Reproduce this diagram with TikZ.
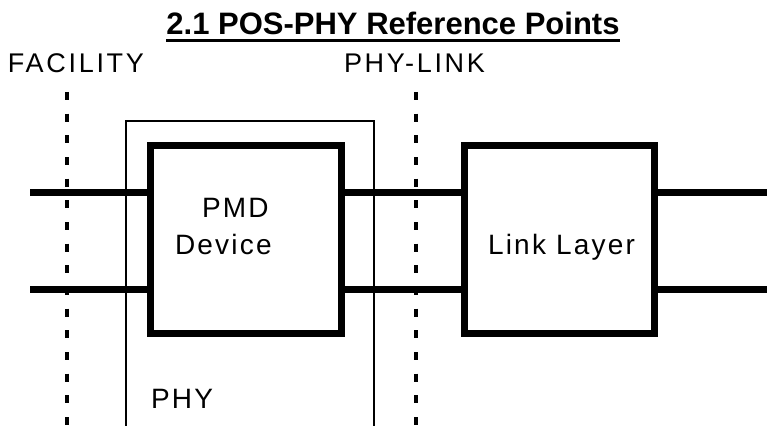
\documentclass[tikz,border=0pt]{standalone}
\usepackage{fontspec}
\setmainfont{Liberation Sans}
\begin{document}
\begin{tikzpicture}[x=1pt,y=-1pt,
  box/.style={draw, line width=7pt, inner sep=0pt, outer sep=0pt, fill=none},
  wire/.style={line width=7pt, line cap=butt},
  refline/.style={line width=3.3pt, dash pattern=on 8pt off 13.67pt},
  phyline/.style={line width=2pt},
  lbl/.style={inner sep=0pt, outer sep=0pt, anchor=base west, font=\fontsize{27}{31}\selectfont\addfontfeature{LetterSpace=10}},
  boxlbl/.style={inner sep=0pt, outer sep=0pt, anchor=base west, font=\fontsize{28}{32}\selectfont\addfontfeature{LetterSpace=8}}]
\useasboundingbox (0,0) rectangle (767,425);
\clip (0,0) rectangle (767,425);
% title
\node[inner sep=0pt, outer sep=0pt, anchor=base, font=\fontsize{31}{36}\selectfont\bfseries] (title) at (393,35) {2.1 POS-PHY Reference Points};
\draw[line width=2.5pt] ([yshift=-5.5pt]title.base west) -- ([yshift=-5.5pt]title.base east);
% reference point labels
\node[lbl] (fac) at (8,73) {FACILITY};
\node[lbl] (pl) at (344,73) {PHY-LINK};
% dashed reference lines
\coordinate (f1) at (67,92);
\coordinate (f2) at (67,430);
\coordinate (p1) at (416,92);
\coordinate (p2) at (416,430);
\draw[refline] (f1) -- (f2);
\draw[refline] (p1) -- (p2);
% PHY enclosure (open at bottom)
\coordinate (phyA) at (125.5,430);
\coordinate (phyB) at (125.5,121);
\coordinate (phyC) at (373.5,121);
\coordinate (phyD) at (373.5,430);
\draw[phyline] (phyA) -- (phyB) -- (phyC) -- (phyD);
\node[boxlbl] (phy) at (151,408) {PHY};
% boxes
\node[box, minimum width=191.6pt, minimum height=188pt] (pmd) at (245.8,239.5) {};
\node[box, minimum width=190pt, minimum height=188pt] (link) at (559.2,239.5) {};
% wires
\coordinate (a1) at (30,192.5);
\coordinate (a2) at (30,289);
\coordinate (b1) at (767,192.5);
\coordinate (b2) at (767,289);
\draw[wire] (a1) -- (a1 -| pmd.west);
\draw[wire] (a2) -- (a2 -| pmd.west);
\draw[wire] (pmd.east |- a1) -- (link.west |- a1);
\draw[wire] (pmd.east |- a2) -- (link.west |- a2);
\draw[wire] (link.east |- b1) -- (b1);
\draw[wire] (link.east |- b2) -- (b2);
\node[box, minimum width=191.6pt, minimum height=188pt] at (pmd) {};
\node[box, minimum width=190pt, minimum height=188pt] at (link) {};
% box labels
\node[boxlbl] (pmdt) at (202,217) {PMD};
\node[boxlbl] (devt) at (175,254) {Device};
\node[boxlbl] (linkt) at (488,254) {Link Layer};
\end{tikzpicture}
\end{document}
